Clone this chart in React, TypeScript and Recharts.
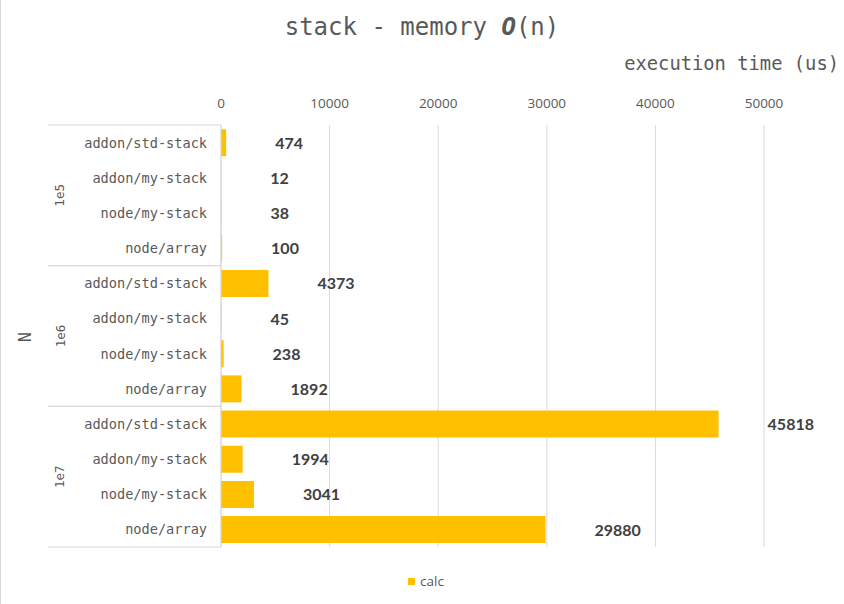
import React from "react";
import {
  BarChart,
  Bar,
  XAxis,
  YAxis,
  CartesianGrid,
  Legend,
  LabelList,
} from "recharts";

const groups = ["1e5", "1e6", "1e7"];
const implementations = [
  "addon/std-stack",
  "addon/my-stack",
  "node/my-stack",
  "node/array",
];
const calc1e5 = [474, 12, 38, 100];
const calc1e6 = [4373, 45, 238, 1892];
const calc1e7 = [45818, 1994, 3041, 29880];
const xTicks = [0, 10000, 20000, 30000, 40000, 50000];

const seriesByGroup = [calc1e5, calc1e6, calc1e7];
const data = groups.flatMap((g, gi) =>
  implementations.map((name, i) => ({
    key: `${g}|${name}`,
    group: g,
    name,
    calc: seriesByGroup[gi][i],
  }))
);

const MONO = "'DejaVu Sans Mono', 'Liberation Mono', monospace";
const SANS = "'Open Sans', 'Liberation Sans', sans-serif";
const GRID = "#d9d9d9";
const TEXT = "#595959";

const W = 844;
const H = 604;
const LINE_LEFT = 48;

const CategoryTick = (props: any) => {
  const { x, y, index, payload } = props;
  const half = payload && payload.offset ? payload.offset : 17.6;
  const n = implementations.length;
  const row = data[index];
  const elems: any[] = [];
  elems.push(
    <text
      key="t"
      x={x - 6}
      y={y}
      textAnchor="end"
      dominantBaseline="central"
      fontFamily={MONO}
      fontSize={13.6}
      fill={TEXT}
    >
      {row ? row.name : ""}
    </text>
  );
  if (index % n === 0) {
    elems.push(
      <line
        key="l"
        x1={LINE_LEFT}
        x2={221}
        y1={y - half}
        y2={y - half}
        stroke={GRID}
        strokeWidth={1}
      />
    );
  }
  if (index % n === n - 1) {
    elems.push(
      <line
        key="b"
        x1={LINE_LEFT}
        x2={221}
        y1={y + half}
        y2={y + half}
        stroke={GRID}
        strokeWidth={1}
      />
    );
  }
  if (index % n === 1) {
    const cy = y + half;
    elems.push(
      <text
        key="g"
        x={60}
        y={cy}
        textAnchor="middle"
        dominantBaseline="central"
        fontFamily={MONO}
        fontSize={12.5}
        fill={TEXT}
        transform={`rotate(-90 60 ${cy})`}
      >
        {row ? row.group : ""}
      </text>
    );
  }
  return <g>{elems}</g>;
};

const ValueTick = (props: any) => {
  const { x, payload } = props;
  return (
    <text
      x={x}
      y={103}
      textAnchor="middle"
      dominantBaseline="central"
      fontFamily={SANS}
      fontSize={13.5}
      fill={TEXT}
    >
      {payload.value}
    </text>
  );
};

const ValueLabel = (props: any) => {
  const { x, y, width, height, value } = props;
  return (
    <text
      x={x + width + 49}
      y={y + height / 2 - 0.5}
      textAnchor="start"
      dominantBaseline="central"
      fontFamily="Lato, 'Open Sans', sans-serif"
      fontWeight="bold"
      fontSize={16}
      fill="#404040"
    >
      {value}
    </text>
  );
};

const LegendContent = () => (
  <div
    style={{
      display: "flex",
      justifyContent: "center",
      alignItems: "center",
      height: 20,
      fontFamily: SANS,
      fontSize: 13.5,
      color: TEXT,
      paddingLeft: 8,
    }}
  >
    <span
      style={{
        display: "inline-block",
        width: 7,
        height: 7,
        background: "#FFC000",
        marginRight: 5,
      }}
    />
    <span>calc</span>
  </div>
);

export default function App() {
  return (
    <div
      style={{
        position: "absolute",
        left: 0,
        top: 0,
        width: W,
        height: H,
        background: "#fff",
      }}
    >
      <BarChart
        width={W}
        height={H}
        data={data}
        layout="vertical"
        margin={{ top: 85, right: 80, bottom: 37, left: 0 }}
        barCategoryGap="12%"
      >
        <CartesianGrid horizontal={false} stroke={GRID} />
        <XAxis
          type="number"
          orientation="top"
          domain={[0, 50000]}
          ticks={xTicks}
          axisLine={false}
          tickLine={false}
          height={40}
          tick={<ValueTick />}
          interval={0}
        />
        <YAxis
          type="category"
          dataKey="key"
          width={221}
          axisLine={{ stroke: GRID }}
          tickLine={false}
          tick={<CategoryTick />}
          interval={0}
        />
        <Bar dataKey="calc" fill="#FFC000" isAnimationActive={false}>
          <LabelList dataKey="calc" content={<ValueLabel />} />
        </Bar>
        <Legend
          verticalAlign="bottom"
          content={<LegendContent />}
          wrapperStyle={{ bottom: 13, left: 0, width: W }}
        />
        <line x1={0.5} x2={0.5} y1={0} y2={H} stroke={GRID} strokeWidth={1} />
        <text
          x={422}
          y={27}
          textAnchor="middle"
          dominantBaseline="central"
          fontFamily={MONO}
          fontSize={24}
          fill={TEXT}
        >
          stack - memory{" "}
          <tspan fontWeight="bold" fontStyle="italic">
            O
          </tspan>
          (n)
        </text>
        <text
          x={839}
          y={63}
          textAnchor="end"
          dominantBaseline="central"
          fontFamily={MONO}
          fontSize={18.8}
          fill={TEXT}
        >
          execution time (us)
        </text>
        <text
          x={25}
          y={337}
          textAnchor="middle"
          dominantBaseline="central"
          fontFamily={MONO}
          fontSize={17}
          fill={TEXT}
          transform="rotate(-90 25 337)"
        >
          N
        </text>
      </BarChart>
    </div>
  );
}
